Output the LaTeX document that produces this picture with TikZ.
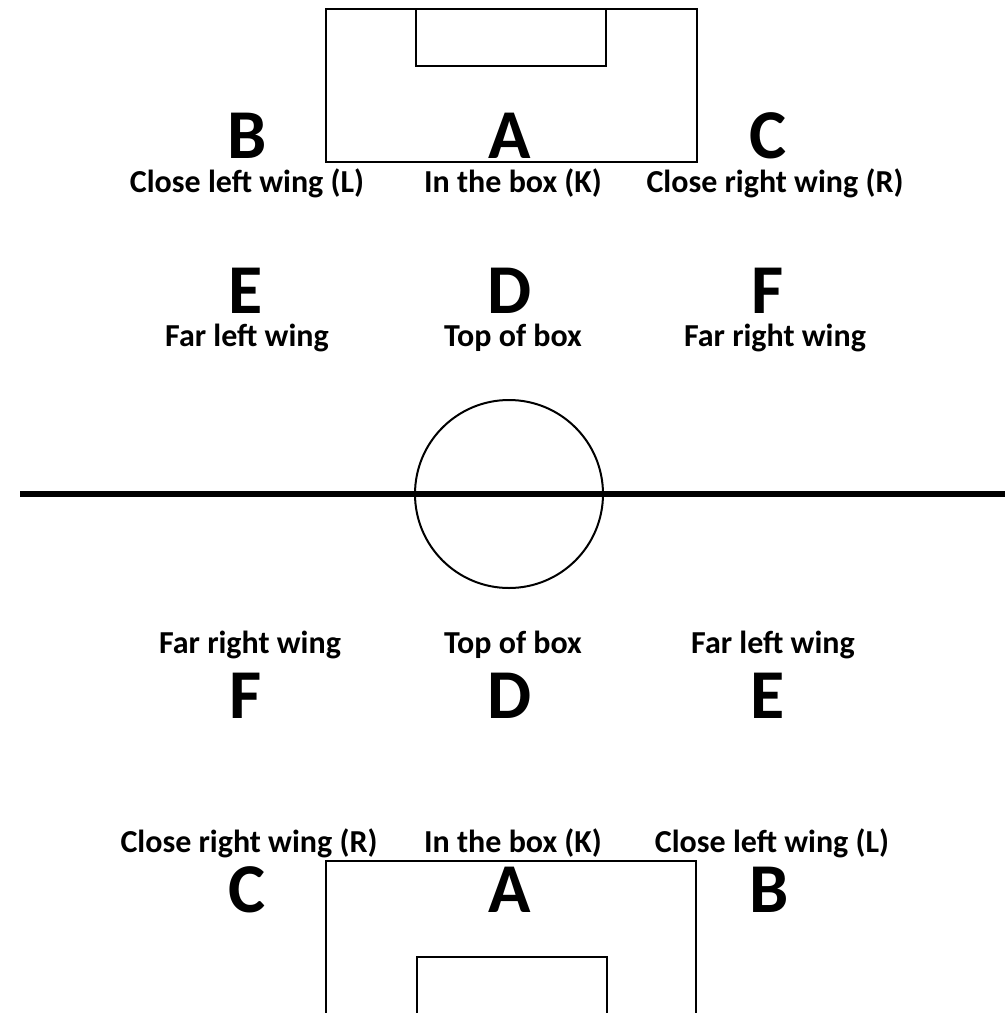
\documentclass[tikz,border=0pt]{standalone}
\usepackage{fontspec}
\setmainfont{Carlito}
\begin{document}
\begin{tikzpicture}[x=1pt,y=-1pt,
  big/.style={font=\bfseries\fontsize{70}{70}\selectfont,anchor=base,inner sep=0pt,text depth=0pt},
  lab/.style={font=\bfseries\fontsize{32}{32}\selectfont,anchor=base,inner sep=0pt},
  linebox/.style={draw=black,line width=2pt}]
\useasboundingbox (0,0) rectangle (1005,1013);
% top goal area
\draw[linebox] (326,9) rectangle (697,162);
\draw[linebox] (416,9) rectangle (606,66);
% centre
\draw[line width=5.5pt] (20,494) -- (1005,494);
\draw[linebox] (509,494) circle (94);
% bottom goal area
\draw[linebox] (326,1020) -- (326,861) -- (696,861) -- (696,1020);
\draw[linebox] (417,1020) -- (417,957) -- (607,957) -- (607,1020);
% row 1
\node[big] (tB) at (247,158) {B};
\node[big] (tA) at (510,158) {A};
\node[big] (tC) at (768,158) {C};
\node[lab] (tL) at (247,192) {Close left wing (L)};
\node[lab] (tK) at (513,192) {In the box (K)};
\node[lab] (tR) at (775,192) {Close right wing (R)};
% row 2
\node[big] (tE) at (246,313) {E};
\node[big] (tD) at (510,313) {D};
\node[big] (tF) at (768,313) {F};
\node[lab] (tFL) at (247,346) {Far left wing};
\node[lab] (tTB) at (513,346) {Top of box};
\node[lab] (tFR) at (775,346) {Far right wing};
% row 3
\node[lab] (bFR) at (250,653) {Far right wing};
\node[lab] (bTB) at (513,653) {Top of box};
\node[lab] (bFL) at (773,653) {Far left wing};
\node[big] (bF) at (246,718) {F};
\node[big] (bD) at (510,718) {D};
\node[big] (bE) at (768,718) {E};
% row 4
\node[lab] (bR) at (249,852) {Close right wing (R)};
\node[lab] (bK) at (513,852) {In the box (K)};
\node[lab] (bL) at (772,852) {Close left wing (L)};
\node[big] (bC) at (247,912) {C};
\node[big] (bA) at (510,912) {A};
\node[big] (bB) at (769,912) {B};
\end{tikzpicture}
\end{document}
